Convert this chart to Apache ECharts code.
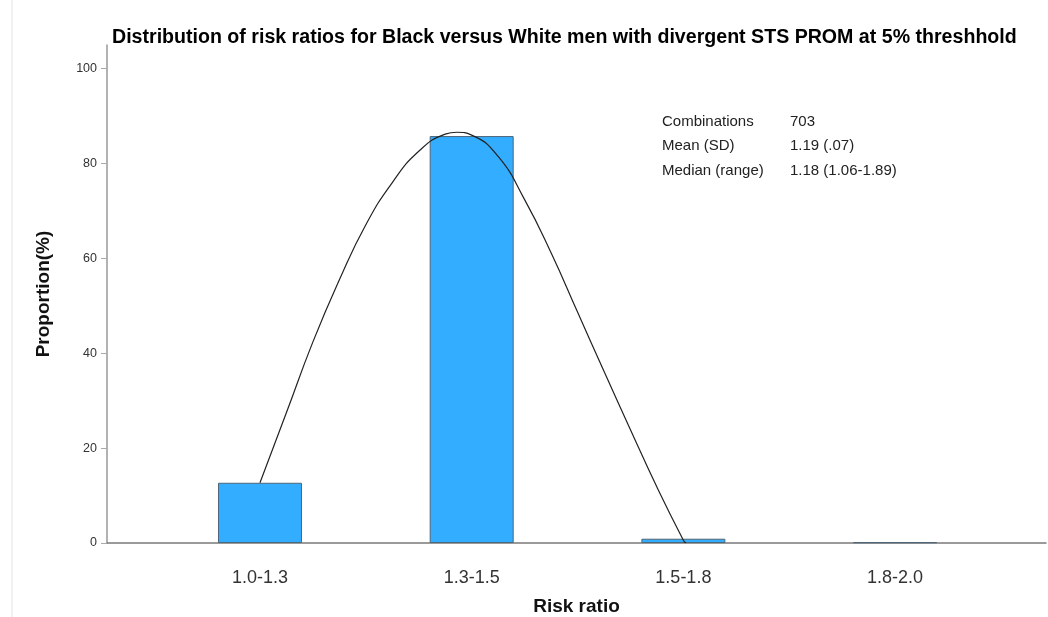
<html lang="en">

<head>
    <meta charset="UTF-8">
    <title>Risk ratio distribution</title>
    <style>
        html, body { margin: 0; padding: 0; background: #fff; }
        #echart { width: 1048px; height: 617px; }
    </style>
</head>

<body>
<div id="echart"></div>
<script src="https://cdn.jsdelivr.net/npm/echarts@6/dist/echarts.min.js"></script>
<script>
    // categories on the x axis, one bar per bin
    const categories = ['1.0-1.3', '1.3-1.5', '1.5-1.8', '1.8-2.0']
    const proportions = [12.7, 85.8, 0.9, 0.15]
    const yTicks = [0, 20, 40, 60, 80, 100]

    // fitted curve: [bin position, proportion]
    const curveX = [0, 0.125, 0.25, 0.375, 0.5, 0.625, 0.75, 0.875, 0.93, 1.0, 1.125, 1.25, 1.375, 1.5, 1.625, 1.75, 1.875, 2.0, 2.012]
    const curveY = [12.7, 27.5, 42.4, 55.5, 67.1, 76.0, 82.6, 86.2, 86.6, 86.0, 81.5, 72.4, 61.2, 48.7, 36.2, 23.9, 11.8, 0.6, 0]

    // summary box
    const statNames = ['Combinations', 'Mean (SD)', 'Median (range)']
    const statValues = ['703', '1.19 (.07)', '1.18 (1.06-1.89)']

    const font = 'Liberation Sans, Arial, sans-serif'
    const echart = echarts.init(document.getElementById('echart'))

    const statText = []
    statNames.forEach((name, i) => {
        statText.push({
            type: 'text', left: 662, top: 114 + i * 24.5,
            style: { text: name, font: '15px ' + font, fill: '#222' }
        })
        statText.push({
            type: 'text', left: 790, top: 114 + i * 24.5,
            style: { text: statValues[i], font: '15px ' + font, fill: '#222' }
        })
    })

    echart.setOption({
        animation: false,
        title: {
            text: 'Distribution of risk ratios for Black versus White men with divergent STS PROM at 5% threshhold',
            left: 107,
            top: 23,
            textStyle: { fontFamily: font, fontSize: 19.6, fontWeight: 'bold', color: '#000' }
        },
        grid: { left: 107, right: 2, top: 45, bottom: 74, outerBoundsMode: 'none', containLabel: false },
        xAxis: {
            type: 'value',
            min: -0.7227,
            max: 3.713,
            name: 'Risk ratio',
            nameLocation: 'middle',
            nameGap: 54,
            nameTextStyle: { fontFamily: font, fontSize: 19, fontWeight: 'bold', color: '#111' },
            axisLine: { lineStyle: { color: '#7a7a7a', width: 1.5 } },
            axisTick: { show: false },
            splitLine: { show: false },
            axisLabel: {
                customValues: [0, 1, 2, 3],
                formatter: v => categories[Math.round(v)],
                fontFamily: font, fontSize: 18, color: '#333', margin: 26
            }
        },
        yAxis: {
            type: 'value',
            min: 0,
            max: 105,
            name: 'Proportion(%)',
            nameLocation: 'middle',
            nameGap: 54,
            nameTextStyle: { fontFamily: font, fontSize: 19, fontWeight: 'bold', color: '#111' },
            axisLine: { show: true, onZero: false, lineStyle: { color: '#999', width: 1.5 } },
            axisTick: { show: true, customValues: yTicks, length: 6, lineStyle: { color: '#aaa' } },
            splitLine: { show: false },
            axisLabel: { customValues: yTicks, fontFamily: font, fontSize: 12.5, color: '#333', margin: 10 }
        },
        series: [{
            type: 'bar',
            barWidth: 84,
            data: proportions.map((v, i) => [i, v]),
            itemStyle: { color: '#33adff', borderColor: '#4d6678', borderWidth: 1 }
        }, {
            type: 'line',
            smooth: 0.5,
            showSymbol: false,
            data: curveX.map((x, i) => [x, curveY[i]]),
            lineStyle: { color: '#222', width: 1.2 },
            z: 3
        }],
        graphic: [{
            type: 'line',
            shape: { x1: 12, y1: 0, x2: 12, y2: 617 },
            style: { stroke: '#e2e2e2', lineWidth: 1 }
        }].concat(statText)
    })
</script>
</body>

</html>
